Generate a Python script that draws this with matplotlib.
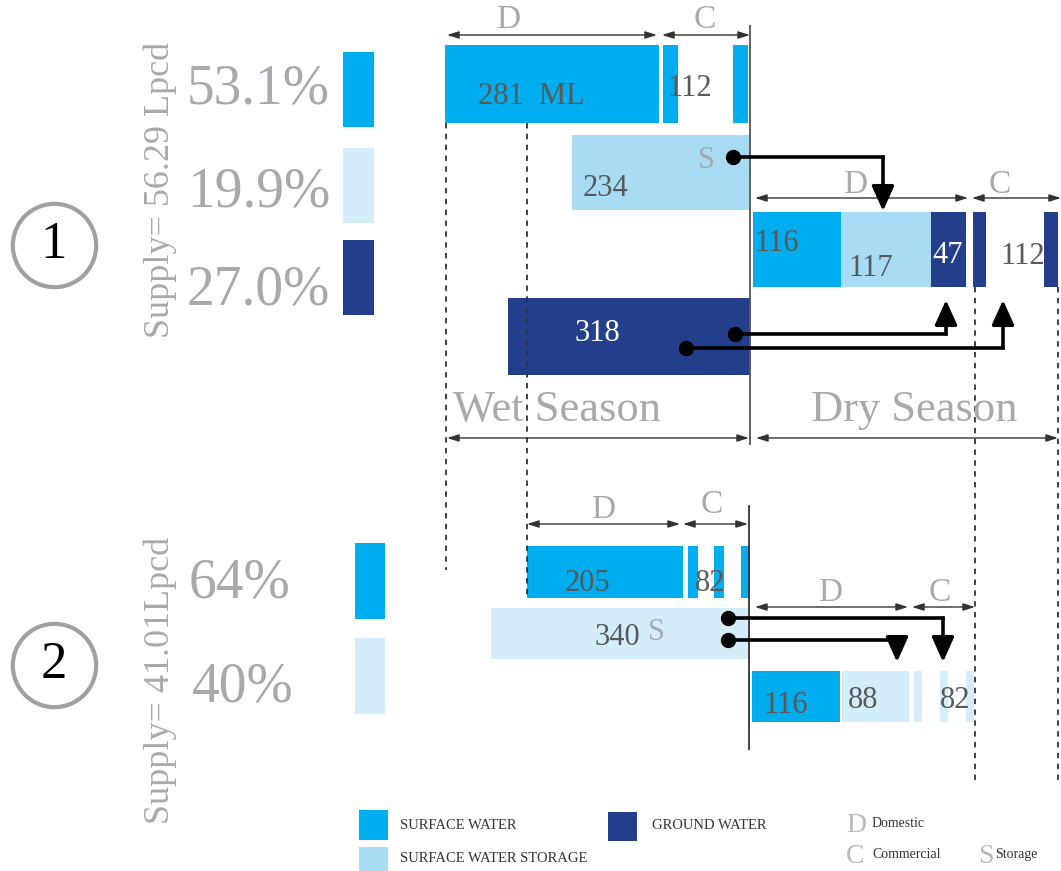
import matplotlib.pyplot as plt
from matplotlib.patches import Rectangle

plt.rcParams['font.family'] = ['Liberation Serif', 'DejaVu Serif']

# ---- data (ML per season) ----
wet1_domestic = 281          # surface water
wet1_commercial = 112        # surface water
wet1_storage = 234
wet1_ground = 318
dry1_domestic = [116, 117, 47]   # surface, storage, ground
dry1_commercial = 112            # ground
wet2_domestic = 205
wet2_commercial = 82
wet2_storage = 340
dry2_domestic = [116, 88]        # surface, storage
dry2_commercial = 82
share1 = ['53.1%', '19.9%', '27.0%']
share2 = ['64%', '40%']
supply = ['Supply= 56.29 Lpcd', 'Supply= 41.01Lpcd']

SW = '#00aeef'
ST1 = '#a8dcf5'
ST2 = '#d3eefa'
GW = '#233e8b'
GREY = '#a7a9ac'
DARK = '#58595b'

SCALE = 0.762   # px per ML
X0 = 750        # season boundary in px


def px(x):
    return (x - X0) / SCALE


fig = plt.figure(figsize=(10.61, 8.71), dpi=100)
ax = fig.add_axes([0, 0, 1, 1])
ax.set_xlim(px(0), px(1061))
ax.set_ylim(871, 0)
ax.axis('off')


def stubs(left, width, n, sw, y, h, color):
    # hollow bar: n thin stubs spread across the span
    step = (width - sw) / (n - 1)
    for i in range(n):
        ax.barh(y, sw, left=left + i * step, height=h, color=color, lw=0)


def dim(x1, x2, y):
    ax.annotate('', xy=(px(x2), y), xytext=(px(x1), y),
                arrowprops=dict(arrowstyle='<|-|>,head_length=0.7,head_width=0.22',
                                color='#333333', lw=1, shrinkA=0, shrinkB=0,
                                mutation_scale=10))


def connector(pts):
    xs = [px(p[0]) for p in pts]
    ys = [p[1] for p in pts]
    ax.plot(xs[:-1], ys[:-1], color='black', lw=2.6, solid_joinstyle='miter', zorder=6)
    ax.plot(xs[0], ys[0], 'o', color='black', ms=10, zorder=7)
    ax.annotate('', xy=(xs[-1], ys[-1]), xytext=(xs[-2], ys[-2]),
                arrowprops=dict(arrowstyle='-|>,head_length=1.0,head_width=0.45',
                                color='black', lw=2.6, shrinkA=0, shrinkB=0,
                                mutation_scale=15), zorder=6)


def label(x, y, s, color=DARK, size=22, ha='left'):
    ax.text(px(x), y, s, color=color, fontsize=size, ha=ha, va='center')


# ---- scenario 1 ----
r = -2.6
gap = 5
stubs(r - wet1_commercial, wet1_commercial, 2, 20, 84, 78, SW)
d_right = r - wet1_commercial - gap
ax.barh(84, wet1_domestic, left=d_right - wet1_domestic, height=78, color=SW, lw=0)
ax.barh(172.5, wet1_storage, left=-wet1_storage, height=75, color=ST1, lw=0)
ax.barh(336.5, wet1_ground, left=-wet1_ground, height=77, color=GW, lw=0)

left = 4
for v, c in zip(dry1_domestic, [SW, ST1, GW]):
    ax.barh(249.5, v, left=left, height=75, color=c, lw=0)
    left += v
stubs(left + 8, dry1_commercial, 2, 18, 249.5, 75, GW)

label(478, 97, f'{wet1_domestic}  ML')
label(667, 88, f'{wet1_commercial}')
label(706, 160, 'S', color=GREY, ha='center')
label(583, 188, f'{wet1_storage}')
label(754, 243, f'{dry1_domestic[0]}')
label(848, 268, f'{dry1_domestic[1]}')
label(932, 255, f'{dry1_domestic[2]}', color='white')
label(1000, 256, f'{dry1_commercial}')
label(597, 333, f'{wet1_ground}', color='white', ha='center')

dim(447, 657, 35)
dim(662, 750, 35)
ax.text(px(508), 20, 'D', color=GREY, fontsize=24, ha='center', va='center')
ax.text(px(705), 20, 'C', color=GREY, fontsize=24, ha='center', va='center')
dim(755, 968, 198)
dim(972, 1061, 198)
ax.text(px(855), 185, 'D', color=GREY, fontsize=24, ha='center', va='center')
ax.text(px(1000), 185, 'C', color=GREY, fontsize=24, ha='center', va='center')

ax.text(px(557), 410, 'Wet Season', color=GREY, fontsize=32, ha='center', va='center')
ax.text(px(914), 410, 'Dry Season', color=GREY, fontsize=32, ha='center', va='center')
dim(447, 749, 438)
dim(756, 1058, 438)

ax.vlines(0, 25, 445, color='#555555', lw=1.3)
ax.vlines(px(749), 505, 750, color='#333333', lw=1.3)
ax.vlines([px(446)], 123, 570, color='#333333', lw=1.3, linestyles=(0, (3, 3)))
ax.vlines([px(527)], 123, 598, color='#333333', lw=1.3, linestyles=(0, (3, 3)))
ax.vlines([px(975), px(1058)], 287, 780, color='#333333', lw=1.3, linestyles=(0, (3, 3)))

connector([(733, 157), (883, 157), (883, 211)])
connector([(735, 334), (946, 334), (946, 300)])
connector([(686, 348), (1003, 348), (1003, 300)])

# ---- scenario 2 ----
stubs(px(688), wet2_commercial, 3, 13, 572, 52, SW)
ax.barh(572, wet2_domestic, left=px(683) - wet2_domestic, height=52, color=SW, lw=0)
ax.barh(633.5, wet2_storage, left=-wet2_storage, height=51, color=ST2, lw=0)

ax.barh(696.5, dry2_domestic[0], left=2.6, height=51, color=SW, lw=0)
ax.barh(696.5, dry2_domestic[1], left=2.6 + dry2_domestic[0] + 2.6, height=51, color=ST2, lw=0)
ax.barh(696.5, 10, left=px(914), height=51, color=ST2, lw=0)
stubs(px(940), 45, 2, 10.5, 696.5, 51, ST2)

label(587, 583, f'{wet2_domestic}', ha='center')
label(695, 583, f'{wet2_commercial}')
label(617, 637, f'{wet2_storage}', ha='center')
label(656, 632, 'S', color=GREY, ha='center')
label(763, 705, f'{dry2_domestic[0]}')
label(848, 700, f'{dry2_domestic[1]}')
label(940, 700, f'{dry2_commercial}')

dim(527, 680, 524)
dim(683, 748, 524)
ax.text(px(603), 510, 'D', color=GREY, fontsize=24, ha='center', va='center')
ax.text(px(712), 505, 'C', color=GREY, fontsize=24, ha='center', va='center')
dim(755, 908, 607)
dim(912, 975, 607)
ax.text(px(830), 593, 'D', color=GREY, fontsize=24, ha='center', va='center')
ax.text(px(940), 593, 'C', color=GREY, fontsize=24, ha='center', va='center')

connector([(728, 618), (943, 618), (943, 662)])
connector([(728, 640), (897, 640), (897, 662)])

# ---- left side: scenario labels, shares ----
for cy, num in [(245, '1'), (665, '2')]:
    ax.plot(px(54), cy, 'o', ms=60, mfc='white', mec='#a0a0a0', mew=3)
    ax.text(px(54), cy, num, color='black', fontsize=38, ha='center', va='center')

ax.text(px(160), 190, supply[0], color=GREY, fontsize=26, rotation=90,
        ha='center', va='center')
ax.text(px(160), 680, supply[1], color=GREY, fontsize=26, rotation=90,
        ha='center', va='center')


def swatch(x, y, w, h, c):
    ax.add_patch(Rectangle((px(x), y), w / SCALE, h, color=c, lw=0))


for s, cy, sy, c in zip(share1, [90, 192, 290], [52, 148, 240], [SW, ST2, GW]):
    ax.text(px(330), cy, s, color=GREY, fontsize=40, ha='right', va='center')
    swatch(343, sy, 31, 75, c)
for s, (cy, rx), sy, c in zip(share2, [(583, 290), (687, 294)], [543, 638], [SW, ST2]):
    ax.text(px(rx), cy, s, color=GREY, fontsize=40, ha='right', va='center')
    swatch(355, sy, 30, 76, c)

# ---- legend ----
swatch(359, 810, 29, 30, SW)
swatch(359, 847, 29, 24, ST1)
swatch(608, 812, 29, 29, GW)
ax.text(px(400), 825, 'SURFACE WATER', color='#333333', fontsize=10.5, va='center')
ax.text(px(400), 858, 'SURFACE WATER STORAGE', color='#333333', fontsize=10.5, va='center')
ax.text(px(652), 825, 'GROUND WATER', color='#333333', fontsize=10.5, va='center')
for x, y, big, small in [(846, 825, 'D', 'Domestic'), (846, 856, 'C', 'Commercial'),
                         (978, 856, 'S', 'Storage')]:
    ax.text(px(x), y, big, color='#b8b8b8', fontsize=20, ha='left', va='center')
    ax.text(px(x + 26 if big != 'S' else x + 17), y - 2, small, color='#333333',
            fontsize=10, va='center')

fig.savefig('out.png', dpi=100)
